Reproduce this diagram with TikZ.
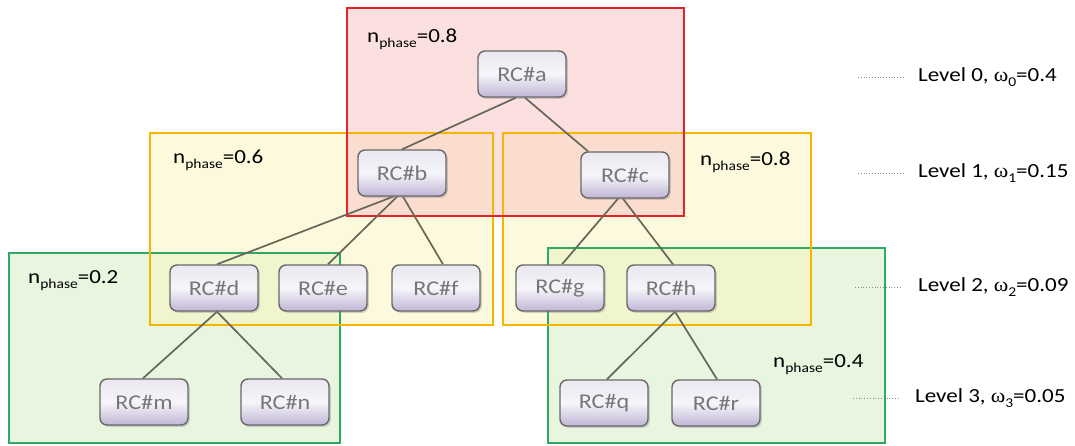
\documentclass[tikz,border=0pt]{standalone}
\usepackage{fontspec}
\setmainfont{Carlito}[FakeStretch=1.15]
\newfontfamily\greekfont{Liberation Serif}[FakeStretch=1.1]
\usetikzlibrary{shadows,calc}

\definecolor{redline}{HTML}{E52228}
\definecolor{redfill}{HTML}{FBC3C3}
\definecolor{yelline}{HTML}{F7B500}
\definecolor{yelfill}{HTML}{FBF5BC}
\definecolor{grnline}{HTML}{2FA864}
\definecolor{grnfill}{HTML}{D3ECC0}
\definecolor{nodeedge}{HTML}{686868}
\definecolor{nodetop}{HTML}{EAE7F0}
\definecolor{nodemid}{HTML}{F6F5FA}
\definecolor{nodebot}{HTML}{C0B6D6}
\definecolor{nodetext}{HTML}{777777}
\definecolor{edgecol}{HTML}{676759}
\definecolor{leadcol}{HTML}{8A8A8A}

\pgfdeclarelayer{regions}
\pgfdeclarelayer{links}
\pgfsetlayers{regions,links,main}

% lowered small text used for subscripts
\newcommand\lowtext[1]{\raisebox{-0.27em}{\fontsize{13.5}{15}\selectfont #1}}

\begin{document}
\begin{tikzpicture}[x=1pt,y=-1pt,
  rcnode/.style={draw=nodeedge, line width=1.4pt, rounded corners=7pt,
    minimum width=88pt, minimum height=46pt, inner sep=0pt,
    top color=nodetop, bottom color=nodebot, middle color=nodemid,
    text=nodetext, font=\fontsize{21}{24}\selectfont,
    drop shadow={opacity=0.35, shadow xshift=1.8pt, shadow yshift=-1.8pt}},
  edge/.style={draw=edgecol, line width=1.7pt},
  groupfill/.style={fill=#1, fill opacity=0.5, draw=none},
  groupline/.style={draw=#1, line width=1.4pt},
  phaselabel/.style={font=\fontsize{20}{22}\selectfont, anchor=base west, inner sep=0pt},
  levellabel/.style={font=\fontsize{20}{22}\selectfont, anchor=base west, inner sep=0pt},
  leader/.style={draw=leadcol, line width=0.8pt, dotted}
]
\useasboundingbox (0,0) rectangle (1075,445);

% group regions: fills first, outlines afterwards
\begin{pgfonlayer}{regions}
  \fill[white] (0,0) rectangle (1075,445);
  \path[groupfill=grnfill] (9,253) rectangle (340,443);
  \path[groupfill=grnfill] (548,248) rectangle (885,443);
  \path[groupfill=yelfill] (150,133) rectangle (493,325);
  \path[groupfill=yelfill] (503,133) rectangle (811,325);
  \path[groupfill=redfill] (347,8) rectangle (684,216);

  \draw[groupline=grnline] (9,253) rectangle (340,443);
  \draw[groupline=grnline] (548,248) rectangle (885,443);
  \draw[groupline=yelline] (150,133) rectangle (493,325);
  \draw[groupline=yelline] (503,133) rectangle (811,325);
  \draw[groupline=redline] (347,8) rectangle (684,216);
\end{pgfonlayer}

% tree nodes
\node[rcnode] (a) at (522,74) {RC\#a};
\node[rcnode] (b) at (402,173) {RC\#b};
\node[rcnode] (c) at (625,175) {RC\#c};
\node[rcnode] (d) at (214,288) {RC\#d};
\node[rcnode] (e) at (323,288) {RC\#e};
\node[rcnode] (f) at (436,288) {RC\#f};
\node[rcnode] (g) at (560,288) {RC\#g};
\node[rcnode] (h) at (671,288) {RC\#h};
\node[rcnode] (m) at (144,402) {RC\#m};
\node[rcnode] (n) at (285,402) {RC\#n};
\node[rcnode] (q) at (604,403) {RC\#q};
\node[rcnode] (r) at (716,403) {RC\#r};

% tree edges, kept behind the nodes
\begin{pgfonlayer}{links}
  \draw[edge] ($(a.south)+(-6,0)$) -- (b.north);
  \draw[edge] ($(a.south)+(3,0)$) -- ($(c.north)+(-37,0)$);
  \draw[edge] ($(b.south)+(-9,0)$) -- ($(d.north)+(3,0)$);
  \draw[edge] ($(b.south)+(-5,0)$) -- ($(e.north)+(5,0)$);
  \draw[edge] ($(b.south)+(1,0)$) -- ($(f.north)+(7,0)$);
  \draw[edge] ($(c.south)+(-7,0)$) -- ($(g.north)+(2,0)$);
  \draw[edge] ($(c.south)+(-2,0)$) -- ($(h.north)+(2,0)$);
  \draw[edge] ($(d.south)+(3,0)$) -- ($(m.north)+(-1,0)$);
  \draw[edge] ($(d.south)+(3,0)$) -- ($(n.north)+(-3,0)$);
  \draw[edge] ($(h.south)+(4,0)$) -- ($(q.north)+(3,0)$);
  \draw[edge] ($(h.south)+(4,0)$) -- ($(r.north)+(1,0)$);
\end{pgfonlayer}

% phase labels
\node[phaselabel] (pa) at (367,42) {n\lowtext{phase}=0.8};
\node[phaselabel] (pb) at (173,163) {n\lowtext{phase}=0.6};
\node[phaselabel] (pc) at (700,165) {n\lowtext{phase}=0.8};
\node[phaselabel] (pd) at (28,283) {n\lowtext{phase}=0.2};
\node[phaselabel] (ph) at (773,367) {n\lowtext{phase}=0.4};

% level labels with dotted leaders
\node[levellabel] (lv0) at (918,81) {Level 0, {\greekfont ω}\lowtext{0}=0.4};
\node[levellabel] (lv1) at (918,177) {Level 1, {\greekfont ω}\lowtext{1}=0.15};
\node[levellabel] (lv2) at (918,291) {Level 2, {\greekfont ω}\lowtext{2}=0.09};
\node[levellabel] (lv3) at (915,402) {Level 3, {\greekfont ω}\lowtext{3}=0.05};
\coordinate (ld0) at (858,77);
\coordinate (ld1) at (858,173);
\coordinate (ld2) at (855,287);
\coordinate (ld3) at (853,398);
\draw[leader] (ld0) -- ++(47,0);
\draw[leader] (ld1) -- ++(47,0);
\draw[leader] (ld2) -- ++(47,0);
\draw[leader] (ld3) -- ++(47,0);
\end{tikzpicture}
\end{document}
